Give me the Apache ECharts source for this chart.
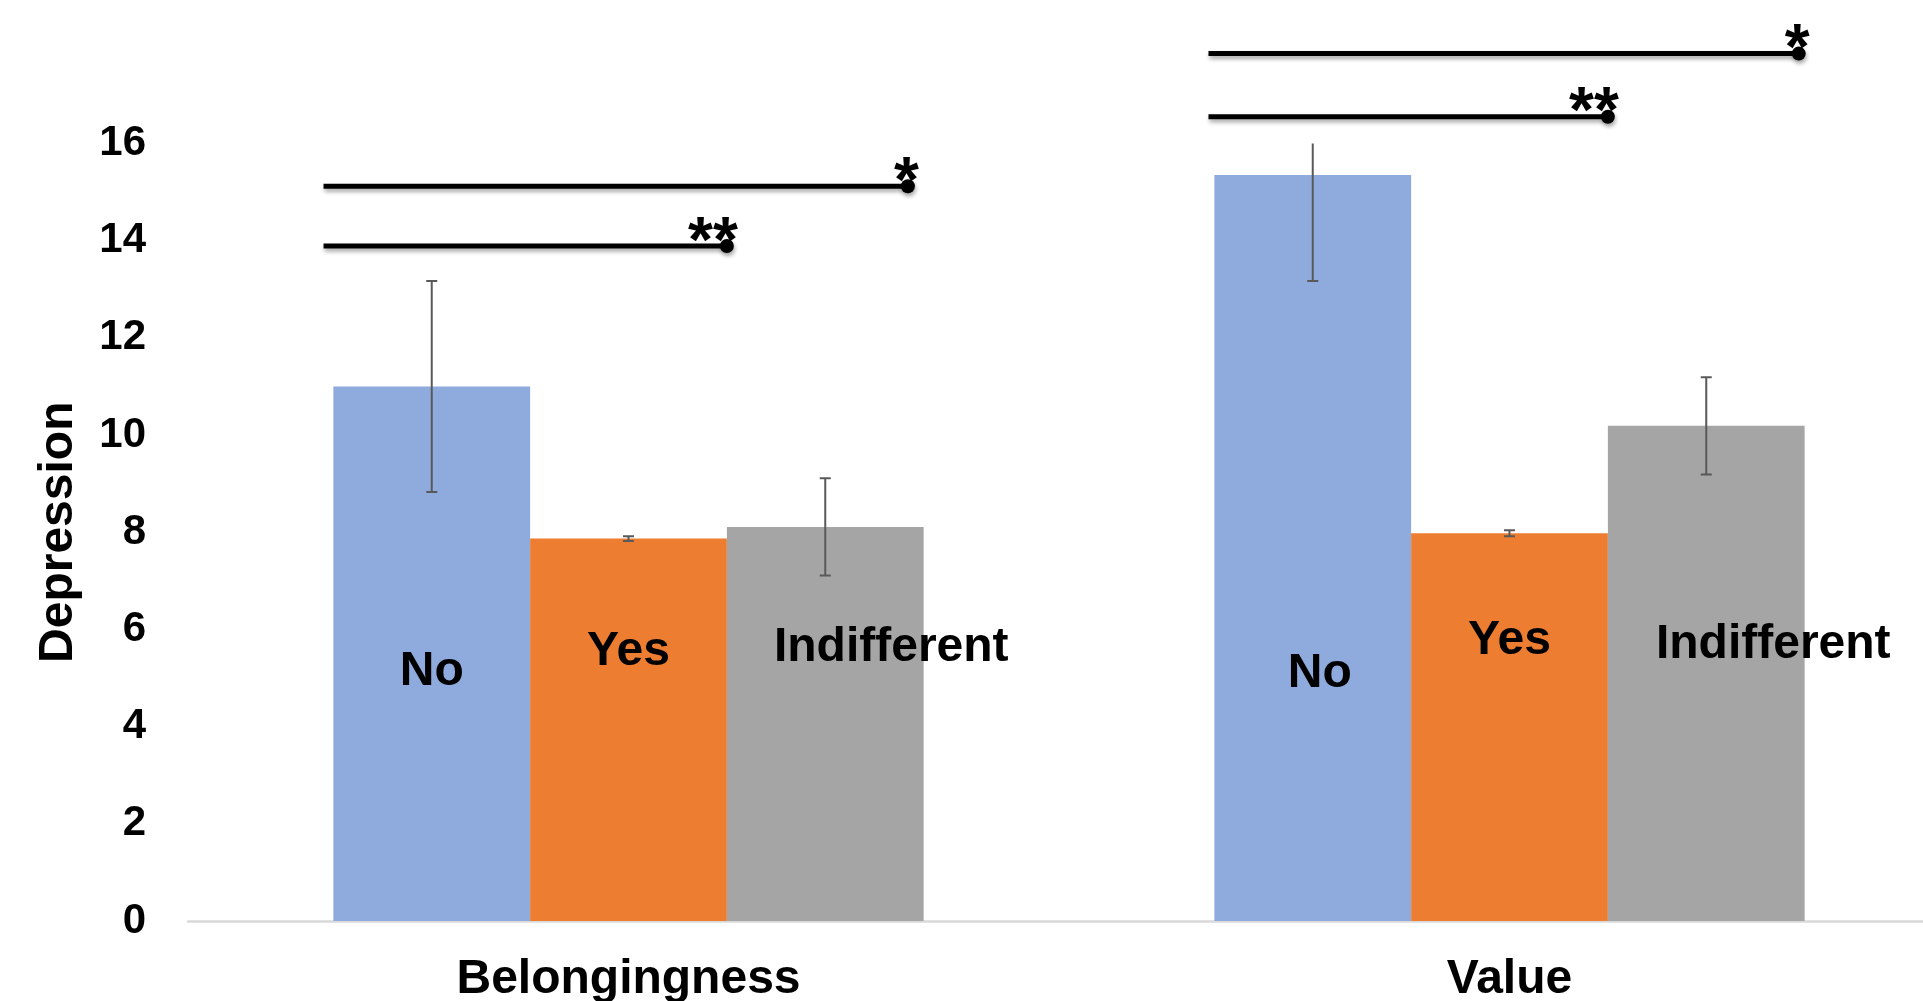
<!DOCTYPE html>
<html>
<head>
<meta charset="utf-8">
<script src="https://cdn.jsdelivr.net/npm/echarts@6/dist/echarts.min.js"></script>
<style>
  html, body { margin: 0; padding: 0; background: #fff; }
  #chart { width: 1923px; height: 1001px; }
</style>
</head>
<body>
<div id="chart"></div>
<script>
// Mean depression score per attitude group, with error half-widths
const groups = ['Belongingness', 'Value'];
const seriesNames = ['No', 'Yes', 'Indifferent'];
const noMean = [11.0, 15.35];
const yesMean = [7.87, 7.98];
const indMean = [8.11, 10.19];
const noErr = [2.17, 2.18];
const yesErr = [0.05, 0.06];
const indErr = [1.0, 1.0];
const yTicks = [0, 2, 4, 6, 8, 10, 12, 14, 16];

// Significance brackets: group index, height on the depression scale,
// span measured in bar slots from the left edge of the group, and stars
const bracketGroup = [0, 0, 1, 1];
const bracketLevel = [15.12, 13.89, 17.85, 16.55];
const bracketFrom = [-0.05, -0.05, -0.03, -0.03];
const bracketTo = [2.92, 2.0, 2.97, 2.0];
const bracketMark = ['*', '**', '*', '**'];

const colors = ['#8FAADC', '#ED7D31', '#A5A5A5'];
const means = [noMean, yesMean, indMean];
const errs = [noErr, yesErr, indErr];
const gapRatio = 0.33;

// label offsets inside each bar, [series][group]
const labelShift = [
  [[0, 18], [7, 126]],
  [[0, -78], [0, -86]],
  [[66, -76], [67, -29]]
];

const chart = echarts.init(document.getElementById('chart'));

const barSeries = seriesNames.map((name, s) => ({
  type: 'bar',
  name: name,
  barGap: 0,
  barCategoryGap: (gapRatio * 100) + '%',
  itemStyle: { color: colors[s] },
  data: means[s].map((v, g) => ({
    value: v,
    label: {
      show: true,
      position: 'inside',
      offset: labelShift[s][g],
      formatter: name,
      color: '#000',
      fontFamily: 'Liberation Sans, Arial, sans-serif',
      fontWeight: 'bold',
      fontSize: 48
    }
  }))
}));

// error bar rows: [group, low, high, seriesIndex]
const errData = [];
seriesNames.forEach((n, s) => {
  means[s].forEach((m, g) => {
    errData.push([g, m - errs[s][g], m + errs[s][g], s]);
  });
});

function slotWidth(api) {
  const catW = api.size([1, 0])[0];
  return catW * (1 - gapRatio) / 3;
}

const errorSeries = {
  type: 'custom',
  name: 'error',
  clip: true,
  z: 5,
  data: errData,
  encode: { x: 0, y: [1, 2] },
  renderItem: function (params, api) {
    const g = api.value(0);
    const s = api.value(3);
    const bw = slotWidth(api);
    const lo = api.coord([g, api.value(1)]);
    const hi = api.coord([g, api.value(2)]);
    const x = lo[0] + (s - 1) * bw;
    const cap = 5.5;
    const style = { stroke: '#595959', lineWidth: 2, fill: null };
    return {
      type: 'group',
      children: [
        { type: 'line', shape: { x1: x, y1: hi[1], x2: x, y2: lo[1] }, style: style },
        { type: 'line', shape: { x1: x - cap, y1: hi[1], x2: x + cap, y2: hi[1] }, style: style },
        { type: 'line', shape: { x1: x - cap, y1: lo[1], x2: x + cap, y2: lo[1] }, style: style }
      ]
    };
  }
};

const bracketData = bracketGroup.map((g, i) => [g, bracketLevel[i], bracketFrom[i], bracketTo[i], i]);

const bracketSeries = {
  type: 'custom',
  name: 'significance',
  clip: false,
  z: 10,
  data: bracketData,
  encode: { x: 0, y: 1 },
  renderItem: function (params, api) {
    const g = api.value(0);
    const p = api.coord([g, api.value(1)]);
    const bw = slotWidth(api);
    const left = p[0] - 1.5 * bw;
    const x1 = left + api.value(2) * bw;
    const x2 = left + api.value(3) * bw;
    const y = p[1];
    const mark = bracketMark[api.value(4)];
    return {
      type: 'group',
      children: [
        {
          type: 'line',
          shape: { x1: x1, y1: y, x2: x2, y2: y },
          style: {
            stroke: '#000', lineWidth: 5, lineCap: 'butt',
            shadowColor: 'rgba(0,0,0,0.35)', shadowBlur: 4, shadowOffsetX: 1, shadowOffsetY: 3
          }
        },
        {
          type: 'circle',
          shape: { cx: x2, cy: y, r: 7 },
          style: {
            fill: '#000',
            shadowColor: 'rgba(0,0,0,0.35)', shadowBlur: 4, shadowOffsetX: 1, shadowOffsetY: 3
          }
        },
        {
          type: 'text',
          x: x2 + 11,
          y: y + 30,
          style: {
            text: mark,
            fill: '#000',
            font: 'bold 64px "Liberation Sans", Arial, sans-serif',
            align: 'right',
            verticalAlign: 'bottom'
          }
        }
      ]
    };
  }
};

chart.setOption({
  animation: false,
  backgroundColor: '#fff',
  grid: {
    left: 188, top: 143.5, right: -27, bottom: 80,
    containLabel: false,
    outerBoundsMode: 'none'
  },
  xAxis: {
    type: 'category',
    data: groups,
    axisLine: { show: true, lineStyle: { color: '#D9D9D9', width: 2.5 } },
    axisTick: { show: false },
    axisLabel: {
      color: '#000',
      fontFamily: 'Liberation Sans, Arial, sans-serif',
      fontWeight: 'bold',
      fontSize: 48,
      margin: 35
    }
  },
  yAxis: {
    type: 'value',
    min: yTicks[0],
    max: yTicks[yTicks.length - 1],
    interval: yTicks[1] - yTicks[0],
    name: 'Depression',
    nameLocation: 'middle',
    nameRotate: 90,
    nameGap: 105,
    nameTextStyle: {
      color: '#000',
      fontFamily: 'Liberation Sans, Arial, sans-serif',
      fontWeight: 'bold',
      fontSize: 48
    },
    axisLine: { show: false },
    axisTick: { show: false },
    splitLine: { show: false },
    axisLabel: {
      color: '#000',
      fontFamily: 'Liberation Sans, Arial, sans-serif',
      fontWeight: 'bold',
      fontSize: 42,
      margin: 42
    }
  },
  series: barSeries.concat([errorSeries, bracketSeries])
});
</script>
</body>
</html>
